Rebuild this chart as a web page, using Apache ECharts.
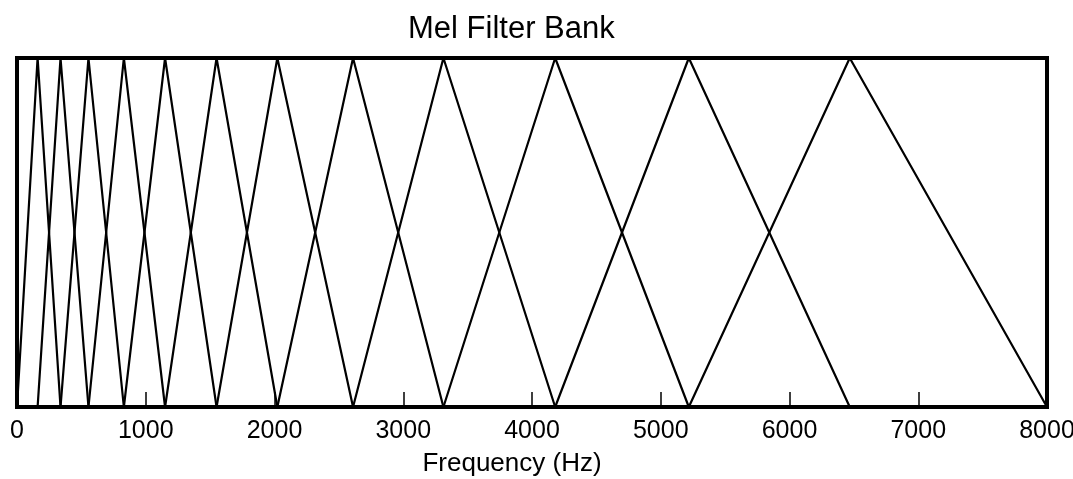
<!DOCTYPE html>
<html>
<head>
<meta charset="utf-8">
<script src="https://cdn.jsdelivr.net/npm/echarts@6/dist/echarts.min.js"></script>
<style>
  html, body { margin: 0; padding: 0; background: #fff; }
  #chart { width: 1073px; height: 479px; }
</style>
</head>
<body>
<div id="chart"></div>
<script>
// filter edge frequencies (Hz): filter i goes edges[i] -> edges[i+1] (peak) -> edges[i+2]
var edges = [0, 160, 338, 555, 830, 1150, 1550, 2022, 2610, 3312, 4180, 5218, 6468, 8000];
var xTicks = [0, 1000, 2000, 3000, 4000, 5000, 6000, 7000, 8000];

var myChart = echarts.init(document.getElementById('chart'));
var font = 'Liberation Sans, Arial, sans-serif';

var series = [];
for (var i = 0; i + 2 < edges.length; i++) {
    series.push({
        type: 'line',
        data: [[edges[i], 0], [edges[i + 1], 1], [edges[i + 2], 0]],
        showSymbol: false,
        symbol: 'none',
        lineStyle: { color: '#000', width: 2.2 },
        silent: true,
        z: 3
    });
}

var option = {
    animation: false,
    backgroundColor: '#fff',
    title: {
        text: 'Mel Filter Bank',
        left: 403,
        top: 9,
        textStyle: { fontFamily: font, fontSize: 31, fontWeight: 'normal', color: '#000' }
    },
    grid: {
        left: 17, right: 26, top: 58, bottom: 72,
        outerBoundsMode: 'none',
        containLabel: false,
        show: true, borderColor: '#000', borderWidth: 4, z: 5
    },
    xAxis: {
        type: 'value',
        min: xTicks[0],
        max: xTicks[xTicks.length - 1],
        interval: 1000,
        name: 'Frequency (Hz)',
        nameLocation: 'middle',
        nameGap: 44,
        nameTextStyle: { fontFamily: font, fontSize: 26, color: '#000', padding: [0, 40, 0, 0] },
        axisLine: { lineStyle: { color: '#000', width: 4 } },
        axisTick: { inside: true, length: 15, lineStyle: { color: '#000', width: 1.5 } },
        axisLabel: {
            margin: 12, fontFamily: font, fontSize: 25, color: '#000',
            formatter: function (v) { return String(v); }
        },
        splitLine: { show: false }
    },
    yAxis: {
        type: 'value',
        min: 0,
        max: 1,
        show: false
    },
    series: series
};

myChart.setOption(option);
</script>
</body>
</html>
